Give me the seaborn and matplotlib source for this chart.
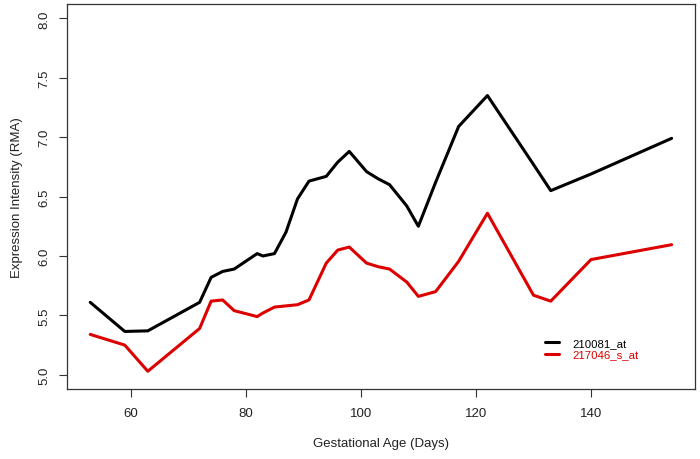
import matplotlib
matplotlib.use("Agg")
import matplotlib.pyplot as plt
import seaborn as sns
import pandas as pd

# gestational age (days) shared by both probes
days = [53, 59, 63, 72, 74, 76, 78, 82, 83, 85, 87, 89, 91, 94, 96, 98,
        101, 103, 105, 108, 110, 113, 117, 122, 130, 133, 140, 154]

# expression intensity (RMA)
probe_210081 = [5.61, 5.365, 5.37, 5.61, 5.82, 5.87, 5.89, 6.02, 6.00, 6.02, 6.20, 6.48,
                6.63, 6.67, 6.79, 6.88, 6.71, 6.65, 6.60, 6.42, 6.25, 6.62, 7.09, 7.35,
                6.77, 6.55, 6.69, 6.99]
probe_217046 = [5.34, 5.25, 5.03, 5.39, 5.62, 5.63, 5.54, 5.49, 5.52, 5.57, 5.58, 5.59,
                5.63, 5.94, 6.05, 6.075, 5.94, 5.91, 5.89, 5.78, 5.66, 5.70, 5.955, 6.36,
                5.67, 5.62, 5.97, 6.095]

probe_names = ["210081_at", "217046_s_at"]
probe_colors = ["#000000", "#dd0000"]

y_ticks = [5.0, 5.5, 6.0, 6.5, 7.0, 7.5, 8.0]
x_ticks = [60, 80, 100, 120, 140]

df = pd.DataFrame({
    "day": days * 2,
    "value": probe_210081 + probe_217046,
    "probe": [probe_names[0]] * len(days) + [probe_names[1]] * len(days),
})

sns.set_style("ticks")
plt.rcParams["font.family"] = ["Liberation Sans", "DejaVu Sans"]

fig = plt.figure(figsize=(7, 4.6), dpi=100)
ax = fig.add_axes([0.0957, 0.152, 0.897, 0.837])

sns.lineplot(data=df, x="day", y="value", hue="probe", palette=probe_colors,
             linewidth=2.2, ax=ax, legend=False)

# R-like axis extents (4% padding)
ax.set_xlim(48.96, 158.04)
ax.set_ylim(4.88, 8.12)
ax.set_xticks(x_ticks)
ax.set_yticks(y_ticks)
ax.set_yticklabels([f"{v:.1f}" for v in y_ticks], rotation=90, va="center")

ax.tick_params(axis="both", direction="out", length=6, width=0.8, labelsize=9.5,
               color="#333333", labelcolor="#222222")
ax.tick_params(axis="x", pad=7)
ax.tick_params(axis="y", pad=6)
for sp in ax.spines.values():
    sp.set_visible(True)
    sp.set_linewidth(0.9)
    sp.set_color("#333333")

ax.set_xlabel("Gestational Age (Days)", fontsize=9.5, color="#222222", labelpad=13)
ax.set_ylabel("Expression Intensity (RMA)", fontsize=9.5, color="#222222", labelpad=11)

handles = [plt.Line2D([], [], color=c, linewidth=2.2) for c in probe_colors]
leg = ax.legend(handles, probe_names, loc="center left", bbox_to_anchor=(0.745, 0.104),
                frameon=False, fontsize=8.2, handlelength=1.2, handletextpad=1.2,
                labelspacing=0.1, labelcolor=probe_colors)

fig.savefig("out.png", dpi=100)
